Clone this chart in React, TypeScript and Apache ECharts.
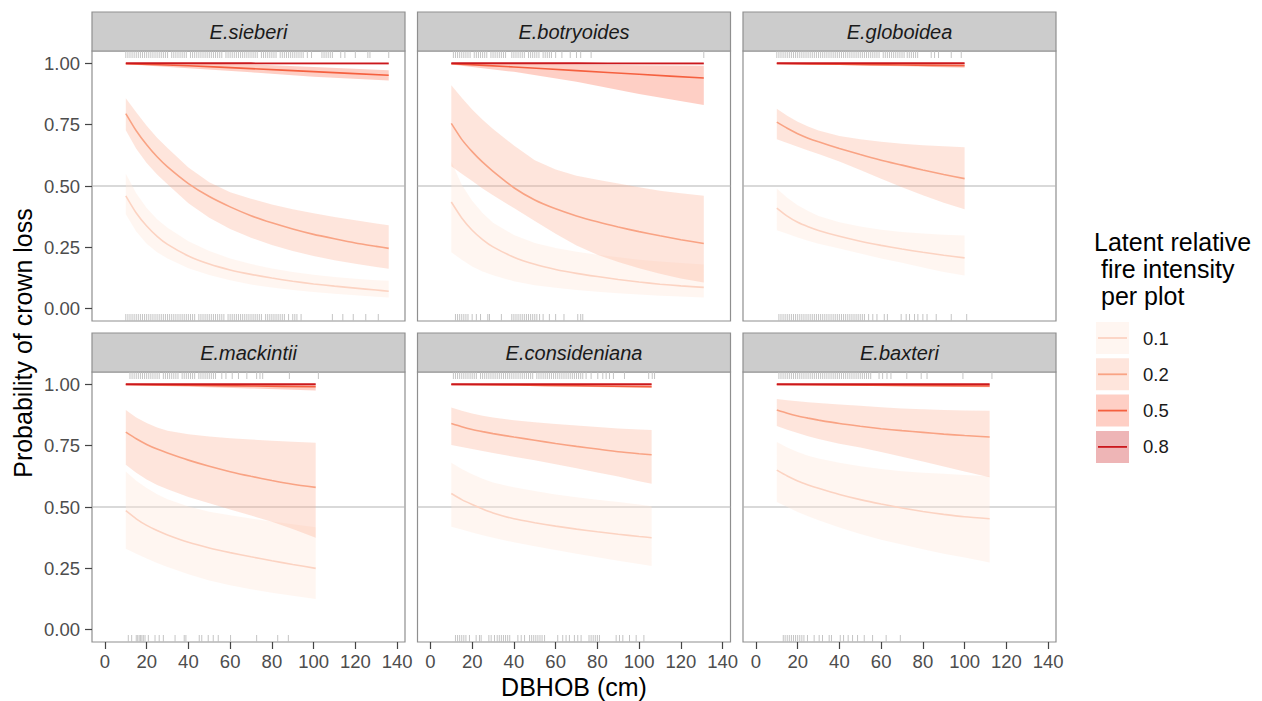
import React, { useEffect, useRef } from "react";
import * as echarts from "echarts";

// ---------- labels ----------
const SPECIES = ["E.sieberi", "E.botryoides", "E.globoidea", "E.mackintii", "E.consideniana", "E.baxteri"];
const INTENSITIES = ["0.1", "0.2", "0.5", "0.8"];
const X_TICKS = [0, 20, 40, 60, 80, 100, 120, 140];
const Y_TICKS = [0, 0.25, 0.5, 0.75, 1];
const X_TITLE = "DBHOB (cm)";
const Y_TITLE = "Probability of crown loss";
const LEGEND_TITLE = ["Latent relative", "fire intensity", "per plot"];

// ---------- E.sieberi ----------
const S_X = [10, 15, 20, 25, 30, 40, 50, 60, 70, 80, 90, 100, 110, 120, 130, 136];
const S1_MID = [0.46, 0.39, 0.337, 0.295, 0.262, 0.215, 0.182, 0.158, 0.14, 0.125, 0.112, 0.101, 0.092, 0.084, 0.076, 0.071];
const S1_LO = [0.385, 0.315, 0.265, 0.23, 0.205, 0.165, 0.137, 0.116, 0.099, 0.086, 0.076, 0.068, 0.061, 0.055, 0.049, 0.046];
const S1_HI = [0.55, 0.47, 0.41, 0.365, 0.33, 0.275, 0.235, 0.205, 0.182, 0.164, 0.15, 0.138, 0.129, 0.122, 0.116, 0.114];
const S2_MID = [0.795, 0.725, 0.668, 0.619, 0.578, 0.51, 0.457, 0.415, 0.379, 0.35, 0.325, 0.303, 0.285, 0.268, 0.254, 0.246];
const S2_LO = [0.727, 0.652, 0.594, 0.547, 0.507, 0.43, 0.371, 0.325, 0.289, 0.26, 0.235, 0.215, 0.198, 0.183, 0.17, 0.163];
const S2_HI = [0.857, 0.8, 0.745, 0.697, 0.655, 0.575, 0.515, 0.475, 0.448, 0.425, 0.405, 0.389, 0.374, 0.36, 0.347, 0.34];
const S_XH = [10, 40, 70, 100, 136];
const S5_MID = [0.998, 0.99, 0.978, 0.966, 0.951];
const S5_LO = [0.996, 0.98, 0.963, 0.945, 0.93];
const S5_HI = [1, 0.999, 0.995, 0.985, 0.972];
const S8_MID = [1, 1, 1, 0.9995, 0.9995];
const S8_LO = [0.999, 0.998, 0.997, 0.996, 0.995];
const S8_HI = [1, 1, 1, 1, 1];
const S_RUG_TOP = [10, 11, 12, 13, 14, 15, 16, 17, 18, 19, 20, 21, 22, 23, 24, 25, 26, 27, 28, 29, 30, 32, 33, 34, 35, 36, 37, 38, 39, 41, 42, 43, 44, 45, 46, 47, 48, 49, 50, 51, 52, 53, 54, 55, 56, 58, 59, 60, 61, 62, 63, 64, 65, 66, 67, 68, 69, 70, 71, 72, 73, 75, 76, 77, 78, 79, 80, 81, 82, 84, 85, 86, 87, 88, 89, 90, 91, 92, 93, 94, 95, 97, 99, 104, 105, 106, 107, 108, 109, 113, 115, 120, 126, 127, 136];
const S_RUG_BOT = [10, 11, 12, 13, 14, 15, 16, 17, 18, 19, 20, 21, 22, 23, 24, 25, 26, 27, 28, 29, 30, 31, 32, 33, 34, 35, 36, 37, 38, 39, 40, 41, 42, 43, 45, 46, 47, 48, 49, 50, 51, 52, 53, 54, 55, 56, 57, 59, 60, 61, 62, 63, 64, 65, 66, 67, 68, 69, 70, 71, 72, 73, 74, 75, 77, 78, 79, 80, 81, 82, 83, 84, 85, 86, 88, 90, 91, 92, 94, 109, 114, 119, 125, 131];

// ---------- E.botryoides ----------
const B_X = [10, 15, 20, 25, 30, 40, 50, 60, 70, 80, 90, 100, 110, 120, 131];
const B1_MID = [0.435, 0.37, 0.32, 0.282, 0.252, 0.21, 0.181, 0.16, 0.144, 0.131, 0.119, 0.109, 0.1, 0.093, 0.087];
const B1_LO = [0.23, 0.2, 0.172, 0.152, 0.136, 0.112, 0.096, 0.085, 0.076, 0.069, 0.063, 0.058, 0.053, 0.05, 0.046];
const B1_HI = [0.6, 0.505, 0.44, 0.39, 0.35, 0.3, 0.268, 0.247, 0.232, 0.22, 0.21, 0.2, 0.192, 0.186, 0.18];
const B2_MID = [0.755, 0.69, 0.64, 0.597, 0.56, 0.493, 0.443, 0.407, 0.378, 0.354, 0.333, 0.314, 0.297, 0.281, 0.266];
const B2_LO = [0.58, 0.55, 0.52, 0.49, 0.462, 0.41, 0.357, 0.305, 0.258, 0.22, 0.19, 0.165, 0.142, 0.123, 0.107];
const B2_HI = [0.91, 0.86, 0.812, 0.77, 0.732, 0.665, 0.605, 0.567, 0.542, 0.525, 0.51, 0.495, 0.481, 0.47, 0.46];
const B_XH = [10, 40, 70, 100, 131];
const B5_MID = [0.998, 0.985, 0.97, 0.955, 0.94];
const B5_LO = [0.995, 0.965, 0.925, 0.875, 0.83];
const B5_HI = [1, 0.998, 0.995, 0.992, 0.99];
const B8_MID = [1, 1, 1, 0.9995, 0.9995];
const B8_LO = [0.999, 0.998, 0.997, 0.996, 0.995];
const B8_HI = [1, 1, 1, 1, 1];
const B_RUG_TOP = [11, 12, 13, 14, 15, 16, 17, 18, 19, 21, 22, 23, 24, 25, 26, 27, 29, 30, 31, 32, 33, 34, 35, 36, 39, 40, 41, 42, 43, 44, 45, 47, 48, 49, 50, 51, 52, 54, 55, 56, 57, 58, 60, 63, 67, 70, 72, 77, 131];
const B_RUG_BOT = [12, 13, 14, 15, 16, 17, 18, 20, 22, 24, 27.5, 28.3, 34, 39, 40, 41, 42, 43, 44, 45, 46, 47, 48, 49, 50, 51, 52.3, 54, 57, 60, 64, 70.6, 72, 73];

// ---------- E.globoidea ----------
const G_X = [10, 15, 20, 25, 30, 40, 50, 60, 70, 80, 90, 100];
const G1_MID = [0.41, 0.377, 0.352, 0.334, 0.319, 0.295, 0.275, 0.258, 0.243, 0.23, 0.218, 0.207];
const G1_LO = [0.32, 0.305, 0.29, 0.277, 0.265, 0.245, 0.225, 0.205, 0.187, 0.168, 0.15, 0.135];
const G1_HI = [0.49, 0.452, 0.422, 0.398, 0.378, 0.352, 0.335, 0.322, 0.313, 0.306, 0.301, 0.298];
const G2_MID = [0.76, 0.735, 0.713, 0.695, 0.68, 0.653, 0.628, 0.605, 0.585, 0.565, 0.547, 0.53];
const G2_LO = [0.69, 0.675, 0.66, 0.645, 0.63, 0.6, 0.565, 0.53, 0.495, 0.462, 0.432, 0.405];
const G2_HI = [0.815, 0.786, 0.762, 0.742, 0.726, 0.704, 0.69, 0.68, 0.672, 0.666, 0.662, 0.658];
const G_XH = [10, 40, 70, 100];
const G5_MID = [0.999, 0.996, 0.993, 0.99];
const G5_LO = [0.997, 0.993, 0.988, 0.982];
const G5_HI = [1, 1, 1, 0.999];
const G8_MID = [1, 1, 1, 1];
const G8_LO = [0.999, 0.999, 0.998, 0.998];
const G8_HI = [1, 1, 1, 1];
const G_RUG_TOP = [10, 11, 12, 13, 14, 15, 16, 17, 18, 19, 20, 21, 22, 23, 24, 25, 26, 27, 28, 29, 30, 31, 32, 33, 34, 35, 36, 37, 38, 39, 40, 41, 42, 43, 44, 45, 46, 47, 48, 49, 50, 51, 52, 53, 54, 55, 56, 57, 58, 59, 61, 62, 63, 64, 65, 66, 67, 68, 69, 70, 71, 72.5, 73.5, 74.5, 75.5, 76.5, 77.5, 84, 85.6, 87.5, 93.6, 98.4];
const G_RUG_BOT = [11, 12, 13, 14, 15, 16, 17, 18, 19, 20, 21, 22, 23, 24, 25, 26, 27, 28, 29, 30, 31, 32, 33, 34, 35, 36, 37, 38, 39, 40, 41, 42, 43, 44, 45, 46, 47, 48, 49, 50, 51, 52, 54, 56, 58, 61.5, 63, 69.6, 72, 73.6, 76, 77.6, 80, 82, 86.4, 93.6, 101];

// ---------- E.mackintii ----------
const M_X = [10, 15, 20, 25, 30, 40, 50, 60, 70, 80, 90, 101];
const M1_MID = [0.485, 0.452, 0.425, 0.404, 0.386, 0.356, 0.333, 0.314, 0.297, 0.281, 0.266, 0.25];
const M1_LO = [0.33, 0.31, 0.29, 0.272, 0.256, 0.226, 0.201, 0.181, 0.165, 0.151, 0.138, 0.125];
const M1_HI = [0.645, 0.607, 0.577, 0.552, 0.532, 0.502, 0.481, 0.466, 0.453, 0.441, 0.43, 0.418];
const M2_MID = [0.805, 0.778, 0.755, 0.736, 0.72, 0.691, 0.666, 0.644, 0.625, 0.608, 0.593, 0.58];
const M2_LO = [0.672, 0.64, 0.612, 0.59, 0.572, 0.541, 0.515, 0.49, 0.465, 0.44, 0.41, 0.375];
const M2_HI = [0.895, 0.865, 0.842, 0.824, 0.811, 0.796, 0.787, 0.78, 0.775, 0.77, 0.766, 0.762];
const M_XH = [10, 40, 70, 101];
const M5_MID = [0.999, 0.996, 0.993, 0.99];
const M5_LO = [0.997, 0.99, 0.983, 0.975];
const M5_HI = [1, 1, 0.999, 0.998];
const M8_MID = [1, 1, 1, 1];
const M8_LO = [0.999, 0.999, 0.998, 0.998];
const M8_HI = [1, 1, 1, 1];
const M_RUG_TOP = [12, 13, 14, 15, 16, 17, 18, 19, 20, 21, 22, 23, 24, 25, 26, 28, 29, 30, 31, 32, 33, 34, 35, 37, 38, 39, 40, 41, 42, 43, 45, 46, 47, 48, 49, 50, 51, 52, 53, 56, 58, 61, 64, 68, 72.7, 74.3, 75.6, 88.4, 102.3];
const M_RUG_BOT = [11.2, 12.8, 15, 15.7, 16.4, 17, 17.7, 18.4, 19.2, 20.8, 24, 26, 28, 33.6, 38, 38.8, 45.2, 46.4, 49.5, 51.9, 54.3, 60.2, 72.7, 82.8, 87.9];

// ---------- E.consideniana ----------
const C_X = [10, 15, 20, 25, 30, 40, 50, 60, 70, 80, 90, 100, 106];
const C1_MID = [0.555, 0.53, 0.51, 0.492, 0.476, 0.452, 0.436, 0.422, 0.41, 0.399, 0.389, 0.38, 0.375];
const C1_LO = [0.42, 0.408, 0.396, 0.385, 0.375, 0.356, 0.34, 0.325, 0.31, 0.295, 0.281, 0.268, 0.26];
const C1_HI = [0.68, 0.655, 0.633, 0.615, 0.6, 0.58, 0.565, 0.551, 0.54, 0.53, 0.52, 0.51, 0.503];
const C2_MID = [0.84, 0.827, 0.816, 0.807, 0.799, 0.785, 0.772, 0.759, 0.747, 0.736, 0.725, 0.717, 0.713];
const C2_LO = [0.753, 0.744, 0.736, 0.728, 0.72, 0.705, 0.69, 0.674, 0.658, 0.641, 0.624, 0.605, 0.595];
const C2_HI = [0.905, 0.892, 0.881, 0.872, 0.865, 0.853, 0.845, 0.838, 0.832, 0.826, 0.82, 0.816, 0.814];
const C_XH = [10, 40, 70, 106];
const C5_MID = [0.999, 0.997, 0.994, 0.99];
const C5_LO = [0.998, 0.994, 0.99, 0.985];
const C5_HI = [1, 1, 1, 0.999];
const C8_MID = [1, 1, 1, 1];
const C8_LO = [0.999, 0.999, 0.998, 0.998];
const C8_HI = [1, 1, 1, 1];
const C_RUG_TOP = [11, 12, 13, 14, 15, 16, 17, 18, 19, 20, 21, 22, 24, 25, 26, 27, 28, 29, 30, 31, 32, 33, 34, 35, 36, 37, 38, 39, 40, 41, 42, 43, 44, 45, 46, 47, 48, 49, 51, 52, 53, 54, 55, 56, 57, 58, 59, 60, 61, 62, 63, 64, 65, 66, 67, 68, 69, 70, 71, 72, 73, 74.6, 77, 80.2, 82.6, 84.2, 85.8, 87.7, 93, 104.6, 106.3, 107.4];
const C_RUG_BOT = [12, 13, 14, 15, 16, 17, 18.7, 21.9, 23.5, 24.3, 28, 29.1, 30.7, 32, 33, 34, 35, 36, 37, 38, 41.9, 43.5, 45.1, 47.5, 48.5, 49.5, 50.5, 51.5, 52.5, 53.5, 54.7, 61, 63.4, 65, 66.6, 69, 70.6, 72.2, 76, 77, 78, 79, 80, 81, 89, 90.6, 92.2, 95.4, 98.6, 102.3];

// ---------- E.baxteri ----------
const X_X = [10, 15, 20, 25, 30, 40, 50, 60, 70, 80, 90, 100, 112];
const X1_MID = [0.65, 0.626, 0.606, 0.59, 0.576, 0.551, 0.53, 0.512, 0.496, 0.482, 0.47, 0.46, 0.452];
const X1_LO = [0.52, 0.5, 0.48, 0.462, 0.446, 0.416, 0.39, 0.367, 0.347, 0.328, 0.31, 0.294, 0.274];
const X1_HI = [0.765, 0.742, 0.724, 0.709, 0.698, 0.68, 0.666, 0.655, 0.646, 0.64, 0.635, 0.63, 0.625];
const X2_MID = [0.895, 0.882, 0.871, 0.862, 0.854, 0.84, 0.829, 0.819, 0.811, 0.804, 0.797, 0.791, 0.785];
const X2_LO = [0.83, 0.815, 0.801, 0.788, 0.777, 0.758, 0.742, 0.724, 0.705, 0.685, 0.665, 0.645, 0.621];
const X2_HI = [0.94, 0.935, 0.931, 0.927, 0.924, 0.918, 0.912, 0.906, 0.901, 0.898, 0.895, 0.893, 0.892];
const X_XH = [10, 40, 70, 112];
const X5_MID = [0.999, 0.997, 0.995, 0.993];
const X5_LO = [0.998, 0.995, 0.992, 0.988];
const X5_HI = [1, 1, 1, 0.999];
const X8_MID = [1, 1, 1, 1];
const X8_LO = [0.999, 0.999, 0.998, 0.998];
const X8_HI = [1, 1, 1, 1];
const X_RUG_TOP = [11, 12, 13, 14, 15, 16, 17, 18, 19, 20, 21, 22, 23, 24, 25, 26, 27, 28, 29, 30, 31, 32, 33, 34, 35, 36, 37, 38, 39, 40, 41, 42, 43, 44, 45, 46, 47, 48, 49, 50, 51, 52, 53, 54, 55, 59, 60.7, 62.8, 64.7, 72.3, 79.2, 82, 99.2, 113.1];
const X_RUG_BOT = [13.1, 14, 15, 16, 17, 18, 19, 20, 21, 22, 23, 24.7, 27.9, 30.3, 31.9, 35.1, 36.2, 40.4, 42, 44.2, 46.3, 48.7, 51.9, 55.9, 62.4, 69.2];

// ---------- styling ----------
const FONT = "'Liberation Sans', Arial, Helvetica, sans-serif";
const LINE_COLORS = ["#fcd3c2", "#f9a384", "#f5603f", "#cb181d"];
const FILL_COLORS = ["rgba(254,229,217,0.36)", "rgba(252,174,145,0.32)", "rgba(251,106,74,0.32)", "rgba(203,24,29,0.32)"];
const XMIN = -6.2;
const XMAX = 143.8;
const YMIN = -0.05;
const YMAX = 1.05;

type Band = { x: number[]; lo: number[]; mid: number[]; hi: number[] };
type Panel = { name: string; bands: Band[]; rugTop: number[]; rugBot: number[] };

const PANELS: Panel[] = [
  {
    name: SPECIES[0],
    bands: [
      { x: S_X, lo: S1_LO, mid: S1_MID, hi: S1_HI },
      { x: S_X, lo: S2_LO, mid: S2_MID, hi: S2_HI },
      { x: S_XH, lo: S5_LO, mid: S5_MID, hi: S5_HI },
      { x: S_XH, lo: S8_LO, mid: S8_MID, hi: S8_HI },
    ],
    rugTop: S_RUG_TOP,
    rugBot: S_RUG_BOT,
  },
  {
    name: SPECIES[1],
    bands: [
      { x: B_X, lo: B1_LO, mid: B1_MID, hi: B1_HI },
      { x: B_X, lo: B2_LO, mid: B2_MID, hi: B2_HI },
      { x: B_XH, lo: B5_LO, mid: B5_MID, hi: B5_HI },
      { x: B_XH, lo: B8_LO, mid: B8_MID, hi: B8_HI },
    ],
    rugTop: B_RUG_TOP,
    rugBot: B_RUG_BOT,
  },
  {
    name: SPECIES[2],
    bands: [
      { x: G_X, lo: G1_LO, mid: G1_MID, hi: G1_HI },
      { x: G_X, lo: G2_LO, mid: G2_MID, hi: G2_HI },
      { x: G_XH, lo: G5_LO, mid: G5_MID, hi: G5_HI },
      { x: G_XH, lo: G8_LO, mid: G8_MID, hi: G8_HI },
    ],
    rugTop: G_RUG_TOP,
    rugBot: G_RUG_BOT,
  },
  {
    name: SPECIES[3],
    bands: [
      { x: M_X, lo: M1_LO, mid: M1_MID, hi: M1_HI },
      { x: M_X, lo: M2_LO, mid: M2_MID, hi: M2_HI },
      { x: M_XH, lo: M5_LO, mid: M5_MID, hi: M5_HI },
      { x: M_XH, lo: M8_LO, mid: M8_MID, hi: M8_HI },
    ],
    rugTop: M_RUG_TOP,
    rugBot: M_RUG_BOT,
  },
  {
    name: SPECIES[4],
    bands: [
      { x: C_X, lo: C1_LO, mid: C1_MID, hi: C1_HI },
      { x: C_X, lo: C2_LO, mid: C2_MID, hi: C2_HI },
      { x: C_XH, lo: C5_LO, mid: C5_MID, hi: C5_HI },
      { x: C_XH, lo: C8_LO, mid: C8_MID, hi: C8_HI },
    ],
    rugTop: C_RUG_TOP,
    rugBot: C_RUG_BOT,
  },
  {
    name: SPECIES[5],
    bands: [
      { x: X_X, lo: X1_LO, mid: X1_MID, hi: X1_HI },
      { x: X_X, lo: X2_LO, mid: X2_MID, hi: X2_HI },
      { x: X_XH, lo: X5_LO, mid: X5_MID, hi: X5_HI },
      { x: X_XH, lo: X8_LO, mid: X8_MID, hi: X8_HI },
    ],
    rugTop: X_RUG_TOP,
    rugBot: X_RUG_BOT,
  },
];

// layout (pixels)
const GRID_LEFTS = [92, 417.5, 743];
const GRID_TOPS = [51, 372];
const GRID_W = 313;
const GRID_H = 270;
const STRIP_H = 39;

function buildOption() {
  const grid: any[] = [];
  const xAxis: any[] = [];
  const yAxis: any[] = [];
  const series: any[] = [];
  const graphic: any[] = [];

  PANELS.forEach((panel, i) => {
    const r = Math.floor(i / 3);
    const c = i % 3;
    const left = GRID_LEFTS[c];
    const top = GRID_TOPS[r];
    grid.push({
      left,
      top,
      width: GRID_W,
      height: GRID_H,
      show: true,
      backgroundColor: "#ffffff",
      borderColor: "#8f8f8f",
      borderWidth: 1.2,
    });
    xAxis.push({
      gridIndex: i,
      type: "value",
      position: "bottom",
      min: XMIN,
      max: XMAX,
      axisLine: { show: false, onZero: false },
      splitLine: { show: false },
      axisTick: {
        show: r === 1,
        customValues: X_TICKS,
        length: 7,
        lineStyle: { color: "#444444", width: 1.2 },
      },
      axisLabel: {
        show: r === 1,
        customValues: X_TICKS,
        margin: 10,
        fontSize: 18.5,
        color: "#4d4d4d",
        fontFamily: FONT,
      },
    });
    yAxis.push({
      gridIndex: i,
      type: "value",
      position: "left",
      min: YMIN,
      max: YMAX,
      axisLine: { show: false, onZero: false },
      splitLine: { show: false },
      axisTick: {
        show: c === 0,
        customValues: Y_TICKS,
        length: 7,
        lineStyle: { color: "#444444", width: 1.2 },
      },
      axisLabel: {
        show: c === 0,
        customValues: Y_TICKS,
        margin: 12,
        fontSize: 18.5,
        color: "#4d4d4d",
        fontFamily: FONT,
        formatter: (v: number) => v.toFixed(2),
      },
    });

    // reference line at 0.5
    series.push({
      type: "line",
      xAxisIndex: i,
      yAxisIndex: i,
      data: [
        [XMIN, 0.5],
        [XMAX, 0.5],
      ],
      symbol: "none",
      silent: true,
      lineStyle: { color: "#b3b3b3", width: 1 },
      z: 1,
    });

    // ribbons
    panel.bands.forEach((band, k) => {
      series.push({
        type: "custom",
        xAxisIndex: i,
        yAxisIndex: i,
        silent: true,
        z: 2,
        data: [[band.x[0], band.lo[0]]],
        encode: { x: 0, y: 1 },
        renderItem: (_params: any, api: any) => {
          const pts: number[][] = [];
          for (let j = 0; j < band.x.length; j++) pts.push(api.coord([band.x[j], band.hi[j]]));
          for (let j = band.x.length - 1; j >= 0; j--) pts.push(api.coord([band.x[j], band.lo[j]]));
          return {
            type: "polygon",
            shape: { points: pts },
            style: { fill: FILL_COLORS[k], stroke: "none" },
          };
        },
      });
    });

    // mean lines
    panel.bands.forEach((band, k) => {
      series.push({
        type: "line",
        xAxisIndex: i,
        yAxisIndex: i,
        data: band.x.map((x, j) => [x, band.mid[j]]),
        showSymbol: false,
        symbol: "none",
        smooth: 0.2,
        silent: true,
        lineStyle: { color: LINE_COLORS[k], width: k === 3 ? 1.8 : 1.6 },
        z: 3,
      });
    });

    // rugs
    const rug = (vals: number[], atTop: boolean) => ({
      type: "custom",
      xAxisIndex: i,
      yAxisIndex: i,
      silent: true,
      z: 4,
      data: vals.map((v) => [v, atTop ? YMAX : YMIN]),
      encode: { x: 0, y: 1 },
      renderItem: (_params: any, api: any) => {
        const p = api.coord([api.value(0), api.value(1)]);
        return {
          type: "line",
          shape: { x1: p[0], y1: p[1], x2: p[0], y2: atTop ? p[1] + 7 : p[1] - 7 },
          style: { stroke: "#bdbdbd", lineWidth: 0.9 },
        };
      },
    });
    series.push(rug(panel.rugTop, true));
    series.push(rug(panel.rugBot, false));

    // strip
    graphic.push({
      type: "rect",
      shape: { x: left, y: top - STRIP_H, width: GRID_W, height: STRIP_H },
      style: { fill: "#cccccc", stroke: "#8f8f8f", lineWidth: 1.2 },
      silent: true,
    });
    graphic.push({
      type: "text",
      x: left + GRID_W / 2,
      y: top - STRIP_H / 2,
      silent: true,
      style: {
        text: panel.name,
        fontSize: 20,
        fontStyle: "italic",
        fontFamily: FONT,
        fill: "#1a1a1a",
        align: "center",
        verticalAlign: "middle",
        textAlign: "center",
        textVerticalAlign: "middle",
      },
    });
  });

  // axis titles
  graphic.push({
    type: "text",
    x: 23,
    y: 343,
    rotation: Math.PI / 2,
    silent: true,
    style: {
      text: Y_TITLE,
      fontSize: 25,
      fontFamily: FONT,
      fill: "#000000",
      align: "center",
      verticalAlign: "middle",
      textAlign: "center",
      textVerticalAlign: "middle",
    },
  });
  graphic.push({
    type: "text",
    x: 574,
    y: 687,
    silent: true,
    style: {
      text: X_TITLE,
      fontSize: 25,
      fontFamily: FONT,
      fill: "#000000",
      align: "center",
      verticalAlign: "middle",
      textAlign: "center",
      textVerticalAlign: "middle",
    },
  });

  // legend
  const titleX = [1094, 1101, 1101];
  const titleY = [242, 269, 296];
  LEGEND_TITLE.forEach((t, k) => {
    graphic.push({
      type: "text",
      x: titleX[k],
      y: titleY[k],
      silent: true,
      style: {
        text: t,
        fontSize: 25,
        fontFamily: FONT,
        fill: "#000000",
        align: "left",
        verticalAlign: "middle",
        textAlign: "left",
        textVerticalAlign: "middle",
      },
    });
  });
  INTENSITIES.forEach((lab, k) => {
    const cy = 338 + k * 36.3;
    graphic.push({
      type: "rect",
      shape: { x: 1096, y: cy - 16, width: 33, height: 32 },
      style: { fill: FILL_COLORS[k], stroke: "none" },
      silent: true,
    });
    graphic.push({
      type: "line",
      shape: { x1: 1098, y1: cy, x2: 1127, y2: cy },
      style: { stroke: LINE_COLORS[k], lineWidth: 1.8 },
      silent: true,
    });
    graphic.push({
      type: "text",
      x: 1143,
      y: cy,
      silent: true,
      style: {
        text: lab,
        fontSize: 18.5,
        fontFamily: FONT,
        fill: "#1a1a1a",
        align: "left",
        verticalAlign: "middle",
        textAlign: "left",
        textVerticalAlign: "middle",
      },
    });
  });

  return {
    animation: false,
    backgroundColor: "#ffffff",
    textStyle: { fontFamily: FONT },
    grid,
    xAxis,
    yAxis,
    series,
    graphic: { elements: graphic },
  };
}

export default function App() {
  const ref = useRef<HTMLDivElement>(null);
  useEffect(() => {
    document.body.style.margin = "0";
    if (!ref.current) return;
    const chart = echarts.init(ref.current, undefined, { renderer: "svg" });
    chart.setOption(buildOption() as any);
    return () => {
      chart.dispose();
    };
  }, []);
  return <div ref={ref} style={{ width: 1262, height: 701 }} />;
}
